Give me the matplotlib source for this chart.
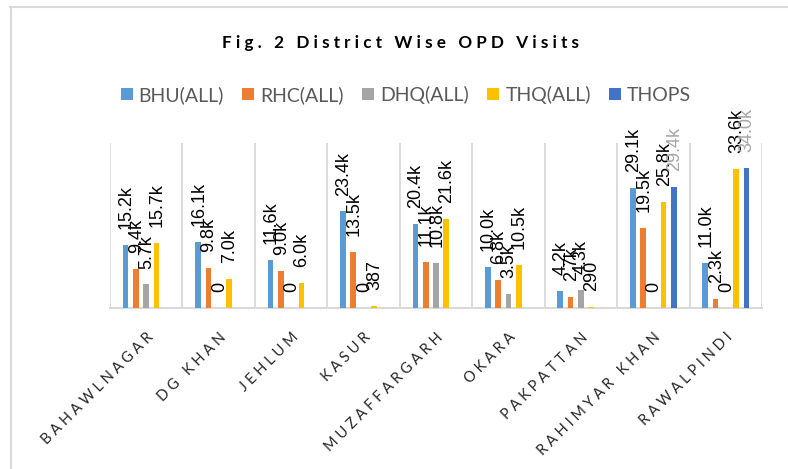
import matplotlib
matplotlib.use('Agg')
import matplotlib.pyplot as plt
import numpy as np
from matplotlib.lines import Line2D
from matplotlib.patches import Patch

districts = ["BAHAWLNAGAR", "DG KHAN", "JEHLUM", "KASUR", "MUZAFFARGARH",
             "OKARA", "PAKPATTAN", "RAHIMYAR KHAN", "RAWALPINDI"]
series_names = ["BHU(ALL)", "RHC(ALL)", "DHQ(ALL)", "THQ(ALL)", "THOPS"]
bhu = [15200, 16100, 11600, 23400, 20400, 10000, 4200, 29100, 11000]
rhc = [9400, 9800, 9000, 13500, 11100, 6800, 2700, 19500, 2300]
dhq = [5700, 0, 0, 0, 10800, 3500, 4300, 0, 0]
thq = [15700, 7000, 6000, 387, 21600, 10500, 290, 25800, 33600]
thops = [None, None, None, None, None, None, None, 29400, 34000]
title = "Fig. 2 District Wise OPD Visits"

colors = ["#5B9BD5", "#ED7D31", "#A5A5A5", "#FFC000", "#4472C4"]
label_colors = ["#000000", "#000000", "#000000", "#000000", "#A6A6A6"]
FAM = ['Lato', 'DejaVu Sans']


def spaced(s, sep):
    return sep.join(s)


def fmt(v):
    return f"{v/1000:.1f}k" if v >= 1000 else f"{v:.0f}"


fig = plt.figure(figsize=(7.88, 4.69), dpi=100)
ax = fig.add_axes([110/788, 1-308/469, (762-110)/788, (308-143)/469])

series = [bhu, rhc, dhq, thq, thops]
n = len(districts)
x = np.arange(n)
slot = 0.142
bw = 0.078
for i, (vals, c, lc) in enumerate(zip(series, colors, label_colors)):
    off = (i - 2) * slot
    for xi, v in zip(x, vals):
        if v is None:
            continue
        ax.bar(xi + off, v, width=bw, color=c, zorder=3)
        ax.annotate(fmt(v), xy=(xi + off, v), xytext=(0.5, 11.5),
                    textcoords='offset points', rotation=90, ha='center',
                    va='bottom', fontsize=13, family='Liberation Sans',
                    color=lc, zorder=4, annotation_clip=False)

ax.set_xlim(-0.5, n - 0.5)
ax.set_ylim(0, 40000)
for b in np.arange(n + 1) - 0.5:
    ax.axvline(b, color='#D9D9D9', lw=1.3, zorder=1)
for s in ['top', 'left', 'right']:
    ax.spines[s].set_visible(False)
ax.spines['bottom'].set_color('#D9D9D9')
ax.spines['bottom'].set_linewidth(1.5)
ax.set_yticks([])
ax.set_xticks(x)
ax.set_xticklabels([spaced(d, ' ') for d in districts], rotation=45, ha='right',
                   rotation_mode='anchor', fontsize=10.5, color='#262626',
                   family=FAM)
ax.tick_params(axis='x', length=0, pad=16)

fig.text(400/788, 1-43/469, spaced(title, ' '), ha='center', va='center',
         fontsize=12.3, fontweight='bold', family=FAM, color='#000000')

handles = [Patch(facecolor=c, edgecolor='none') for c in colors]
fig.legend(handles, series_names, loc='center', bbox_to_anchor=(406/788, 1-95/469),
           ncol=5, frameon=False, handlelength=0.62,
           handleheight=0.62, handletextpad=0.3, columnspacing=0.95,
           labelcolor='#595959', prop={'family': FAM, 'size': 14})

fig.add_artist(Line2D([10.5/788, 10.5/788], [0, 1-7/469], transform=fig.transFigure,
                      color='#D9D9D9', lw=1.5))
fig.add_artist(Line2D([10/788, 1], [1-7/469, 1-7/469], transform=fig.transFigure,
                      color='#D9D9D9', lw=1.5))

fig.savefig('out.png', dpi=100)
